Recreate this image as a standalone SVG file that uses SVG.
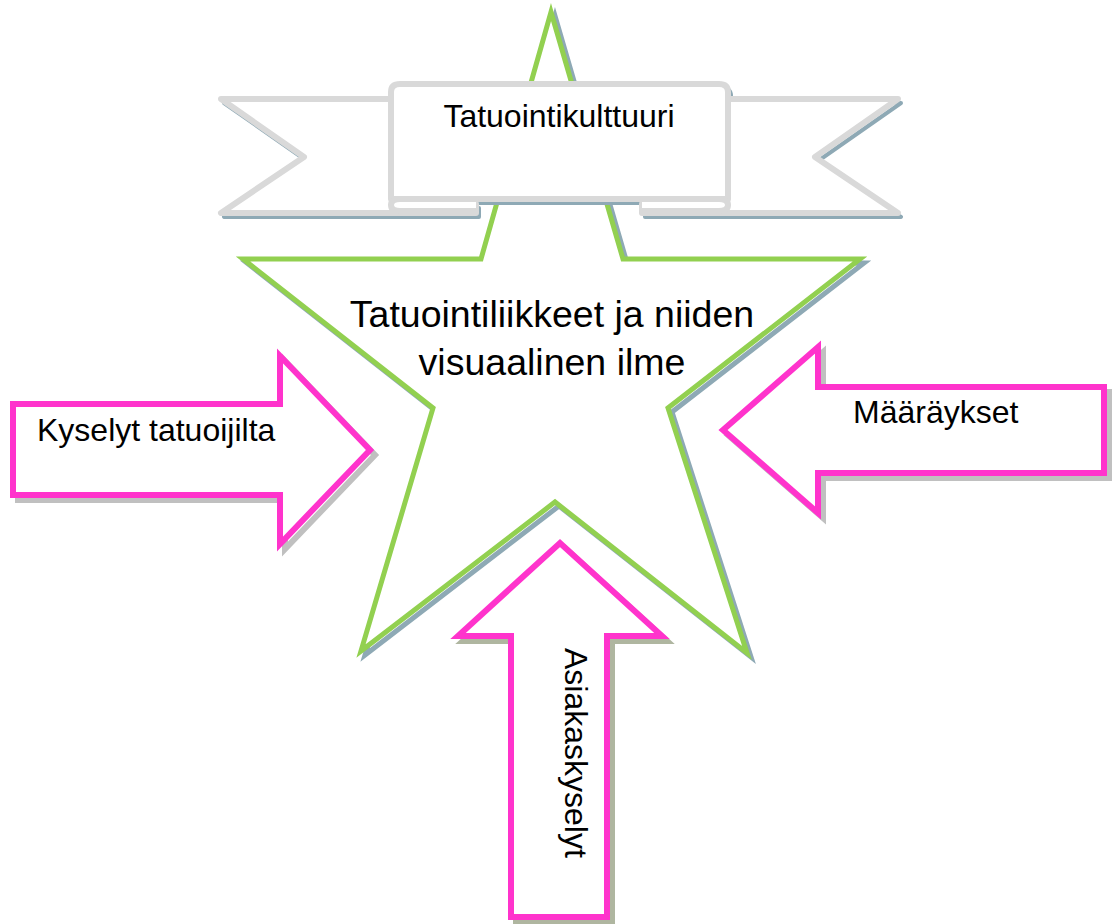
<svg xmlns="http://www.w3.org/2000/svg" width="1116" height="924" viewBox="0 0 1116 924">
<defs>
<style>
.star{fill:#ffffff;stroke:#92D050;stroke-width:5;stroke-linejoin:miter;stroke-miterlimit:20}
.starsh{fill:none;stroke:#8EA9B5;stroke-width:5;stroke-linejoin:miter;stroke-miterlimit:20}
.rib{fill:#ffffff;stroke:#D9D9D9;stroke-width:6;stroke-linejoin:round;stroke-linecap:round}
.ribsh{fill:none;stroke:#8EA9B5;stroke-width:4;stroke-linejoin:round;stroke-linecap:round}
.arr{fill:#ffffff;stroke:#FF33CC;stroke-width:6;stroke-linejoin:miter;stroke-miterlimit:20}
.arrsh{fill:none;stroke:#C0C0C0;stroke-width:6;stroke-linejoin:miter;stroke-miterlimit:20}
.txt{font-family:"Liberation Sans",Arial,sans-serif;fill:#000000}
</style>
<path id="starShape" d="M551,12 L623,259 L860,259 L668,408 L747,653 L555,502 L361,651 L433,408 L243,259 L481,259 Z"/>
<g id="ribbonShape">
<path d="M389,99 L221,99 L304,157 L221,213 L476,213 L476,204"/>
<path d="M730,99 L898,99 L815,157 L898,213 L642,213 L642,204"/>
<path d="M391,199 L391,92 Q391,84 400,84 L719,84 Q728,84 728,92 L728,199 Z"/>
<path d="M476,199 L400,199 Q391,199 391,205 Q391,211 400,211 L476,211"/>
<path d="M642,199 L719,199 Q728,199 728,205 Q728,211 719,211 L642,211"/>
</g>
</defs>
<rect width="1116" height="924" fill="#ffffff"/>

<g id="star">
<use href="#starShape" class="starsh" transform="translate(4,4)"/>
<use href="#starShape" class="star"/>
<text class="txt" font-size="37.5" text-anchor="middle" x="552" y="327">Tatuointiliikkeet ja niiden</text>
<text class="txt" font-size="37.5" text-anchor="middle" x="552" y="375">visuaalinen ilme</text>
</g>

<g id="ribbon">
<use href="#ribbonShape" class="ribsh" transform="translate(3,4)"/>
<use href="#ribbonShape" class="rib"/>
<text class="txt" font-size="32" text-anchor="middle" x="559" y="127">Tatuointikulttuuri</text>
</g>

<g id="connectors">
<g id="arrowLeft">
<path class="arrsh" transform="translate(5,5)" d="M13,404 L280,404 L280,356 L370,450 L280,544 L280,495 L13,495 Z"/>
<path class="arr" d="M13,404 L280,404 L280,356 L370,450 L280,544 L280,495 L13,495 Z"/>
<text class="txt" font-size="32" x="37" y="441">Kyselyt tatuoijilta</text>
</g>
<g id="arrowRight">
<path class="arrsh" transform="translate(5,5)" d="M1104,387 L818,387 L818,347 L723,430 L818,513 L818,473 L1104,473 Z"/>
<path class="arr" d="M1104,387 L818,387 L818,347 L723,430 L818,513 L818,473 L1104,473 Z"/>
<text class="txt" font-size="32" x="853" y="423">Määräykset</text>
</g>
<g id="arrowBottom">
<path class="arrsh" style="stroke:#AFB6A0" transform="translate(5,5)" d="M511,917 L511,636 L458,636 L560,543 L662,636 L607,636 L607,917 Z"/>
<path class="arr" d="M511,917 L511,636 L458,636 L560,543 L662,636 L607,636 L607,917 Z"/>
<text class="txt" font-size="32" transform="translate(565,648) rotate(90)">Asiakaskyselyt</text>
</g>
</g>
</svg>
